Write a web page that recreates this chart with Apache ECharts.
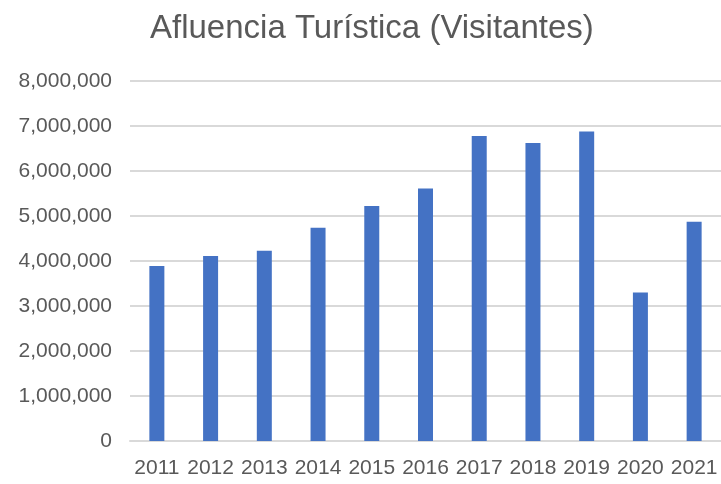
<!DOCTYPE html>
<html lang="es">
  <head>
    <meta charset="utf-8">
    <title>Afluencia Turística</title>
    <script type="text/javascript" src="https://cdn.jsdelivr.net/npm/echarts@6/dist/echarts.min.js"></script>
    <style>
      html, body { margin:0; padding:0; background:#fff; }
      #chart { width:721px; height:484px; }
    </style>
  </head>
  <body>
    <div id="chart"></div>
    <script type="text/javascript">
      // años y visitantes
      var years = ['2011','2012','2013','2014','2015','2016','2017','2018','2019','2020','2021'];
      var visitantes = [3890000, 4110000, 4230000, 4740000, 5220000, 5610000, 6780000, 6620000, 6880000, 3300000, 4870000];
      var yTicks = [0, 1000000, 2000000, 3000000, 4000000, 5000000, 6000000, 7000000, 8000000];

      var FONT = '"Liberation Sans", Arial, sans-serif';
      var TEXT = '#595959';

      var myChart = echarts.init(document.getElementById('chart'));
      var option = {
        animation: false,
        title: {
          text: 'Afluencia Turística (Visitantes)',
          left: 145,
          top: 7,
          textStyle: { fontFamily: FONT, fontSize: 33, fontWeight: 'normal', color: TEXT }
        },
        grid: { left: 130, right: 0, top: 81, bottom: 43 },
        xAxis: {
          type: 'category',
          data: years,
          axisLine: { lineStyle: { color: '#d9d9d9', width: 2 } },
          axisTick: { show: false },
          axisLabel: { fontFamily: FONT, fontSize: 21, color: TEXT, margin: 17, interval: 0 }
        },
        yAxis: {
          type: 'value',
          min: yTicks[0],
          max: yTicks[yTicks.length - 1],
          interval: yTicks[1] - yTicks[0],
          axisLine: { show: false },
          axisTick: { show: false },
          splitLine: { lineStyle: { color: '#d9d9d9', width: 2 } },
          axisLabel: {
            fontFamily: FONT, fontSize: 21, color: TEXT, margin: 18,
            formatter: function(v){ return v.toLocaleString('en-US'); }
          }
        },
        series: [{
          type: 'bar',
          data: visitantes,
          barWidth: 15,
          itemStyle: { color: '#4472C4' }
        }]
      };
      myChart.setOption(option);
    </script>
  </body>
</html>
